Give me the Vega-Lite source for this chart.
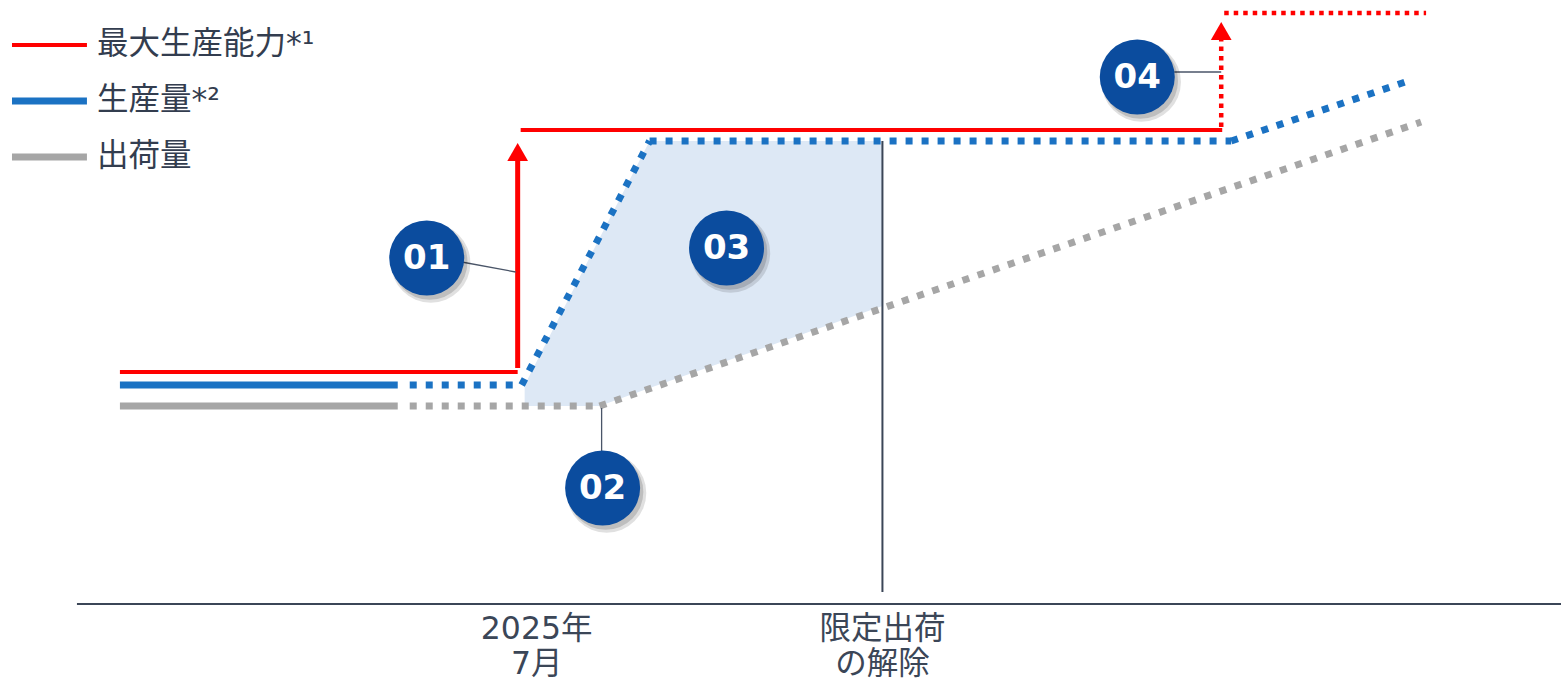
{
  "$schema": "https://vega.github.io/schema/vega-lite/v6.json",
  "width": 1562,
  "height": 681,
  "autosize": {"type": "fit", "contains": "padding"},
  "padding": 0,
  "background": "white",
  "config": {"view": {"stroke": null}},
  "datasets": {
    "area": [
      {"x": 525, "y": 385, "y2": 406},
      {"x": 600, "y": 238, "y2": 406},
      {"x": 650, "y": 141, "y2": 388},
      {"x": 883, "y": 141, "y2": 306}
    ],
    "redSolid": [
      {"x": 120, "y": 372, "x2": 518, "y2": 372},
      {"x": 521, "y": 130, "x2": 1223, "y2": 130}
    ],
    "redShaft": [{"x": 518, "y": 368, "x2": 518, "y2": 158}],
    "redDotted": [
      {"x": 1222, "y": 127, "x2": 1222, "y2": 40},
      {"x": 1225, "y": 13, "x2": 1427, "y2": 13}
    ],
    "arrowHeads": [{"x": 518, "y": 152}, {"x": 1222, "y": 31}],
    "blueSolid": [{"x": 120, "y": 385, "x2": 398, "y2": 385}],
    "blueDotted": [
      {"x": 410, "y": 385, "x2": 522, "y2": 385},
      {"x": 522, "y": 385, "x2": 650, "y2": 141},
      {"x": 650, "y": 141, "x2": 1232, "y2": 141},
      {"x": 1232, "y": 141, "x2": 1412, "y2": 80}
    ],
    "graySolid": [{"x": 120, "y": 406, "x2": 398, "y2": 406}],
    "grayDotted": [
      {"x": 410, "y": 406, "x2": 600, "y2": 406},
      {"x": 600, "y": 406, "x2": 1422, "y2": 122}
    ],
    "darkRules": [
      {"x": 883, "y": 141, "x2": 883, "y2": 592},
      {"x": 77, "y": 604, "x2": 1562, "y2": 604}
    ],
    "connectors": [
      {"x": 462, "y": 262, "x2": 516, "y2": 272},
      {"x": 602, "y": 408, "x2": 602, "y2": 452},
      {"x": 1175, "y": 72, "x2": 1222, "y2": 72}
    ],
    "badges": [
      {"x": 427, "y": 258, "label": "01"},
      {"x": 603, "y": 488, "label": "02"},
      {"x": 727, "y": 248, "label": "03"},
      {"x": 1138, "y": 77, "label": "04"}
    ],
    "axisLabels": [
      {"x": 537, "y": 630, "label": "2025年"},
      {"x": 537, "y": 665, "label": "7月"},
      {"x": 883, "y": 630, "label": "限定出荷"},
      {"x": 883, "y": 665, "label": "の解除"}
    ],
    "legendRed": [{"x": 12, "y": 45, "x2": 87, "y2": 45}],
    "legendBlue": [{"x": 12, "y": 101, "x2": 87, "y2": 101}],
    "legendGray": [{"x": 12, "y": 157, "x2": 87, "y2": 157}],
    "legendText": [
      {"x": 97, "y": 45, "label": "最大生産能力*¹"},
      {"x": 97, "y": 101, "label": "生産量*²"},
      {"x": 97, "y": 157, "label": "出荷量"}
    ]
  },
  "layer": [
    {
      "data": {"name": "area"},
      "mark": {"type": "area", "color": "#dde8f5", "opacity": 1},
      "encoding": {
        "x": {"field": "x", "type": "quantitative", "scale": {"domain": [0, 1562], "nice": false, "zero": false}, "axis": null},
        "y": {"field": "y", "type": "quantitative", "scale": {"domain": [0, 681], "nice": false, "zero": false, "reverse": true}, "axis": null},
        "y2": {"field": "y2"}
      }
    },
    {
      "data": {"name": "redSolid"},
      "mark": {"type": "rule", "color": "#ff0000", "strokeWidth": 4},
      "encoding": {
        "x": {"field": "x", "type": "quantitative"},
        "y": {"field": "y", "type": "quantitative"},
        "x2": {"field": "x2"},
        "y2": {"field": "y2"}
      }
    },
    {
      "data": {"name": "redShaft"},
      "mark": {"type": "rule", "color": "#ff0000", "strokeWidth": 5},
      "encoding": {
        "x": {"field": "x", "type": "quantitative"},
        "y": {"field": "y", "type": "quantitative"},
        "x2": {"field": "x2"},
        "y2": {"field": "y2"}
      }
    },
    {
      "data": {"name": "redDotted"},
      "mark": {"type": "rule", "color": "#ff0000", "strokeWidth": 4.5, "strokeDash": [4.5, 5]},
      "encoding": {
        "x": {"field": "x", "type": "quantitative"},
        "y": {"field": "y", "type": "quantitative"},
        "x2": {"field": "x2"},
        "y2": {"field": "y2"}
      }
    },
    {
      "data": {"name": "arrowHeads"},
      "mark": {"type": "point", "shape": "triangle-up", "filled": true, "color": "#ff0000", "size": 430, "opacity": 1},
      "encoding": {
        "x": {"field": "x", "type": "quantitative"},
        "y": {"field": "y", "type": "quantitative"}
      }
    },
    {
      "data": {"name": "blueSolid"},
      "mark": {"type": "rule", "color": "#1b72c3", "strokeWidth": 7},
      "encoding": {
        "x": {"field": "x", "type": "quantitative"},
        "y": {"field": "y", "type": "quantitative"},
        "x2": {"field": "x2"},
        "y2": {"field": "y2"}
      }
    },
    {
      "data": {"name": "blueDotted"},
      "mark": {"type": "rule", "color": "#1b72c3", "strokeWidth": 7, "strokeDash": [7, 9]},
      "encoding": {
        "x": {"field": "x", "type": "quantitative"},
        "y": {"field": "y", "type": "quantitative"},
        "x2": {"field": "x2"},
        "y2": {"field": "y2"}
      }
    },
    {
      "data": {"name": "graySolid"},
      "mark": {"type": "rule", "color": "#a6a6a6", "strokeWidth": 7},
      "encoding": {
        "x": {"field": "x", "type": "quantitative"},
        "y": {"field": "y", "type": "quantitative"},
        "x2": {"field": "x2"},
        "y2": {"field": "y2"}
      }
    },
    {
      "data": {"name": "grayDotted"},
      "mark": {"type": "rule", "color": "#a6a6a6", "strokeWidth": 7, "strokeDash": [7, 9]},
      "encoding": {
        "x": {"field": "x", "type": "quantitative"},
        "y": {"field": "y", "type": "quantitative"},
        "x2": {"field": "x2"},
        "y2": {"field": "y2"}
      }
    },
    {
      "data": {"name": "darkRules"},
      "mark": {"type": "rule", "color": "#3b4657", "strokeWidth": 2},
      "encoding": {
        "x": {"field": "x", "type": "quantitative"},
        "y": {"field": "y", "type": "quantitative"},
        "x2": {"field": "x2"},
        "y2": {"field": "y2"}
      }
    },
    {
      "data": {"name": "connectors"},
      "mark": {"type": "rule", "color": "#4a5568", "strokeWidth": 1.3},
      "encoding": {
        "x": {"field": "x", "type": "quantitative"},
        "y": {"field": "y", "type": "quantitative"},
        "x2": {"field": "x2"},
        "y2": {"field": "y2"}
      }
    },
    {
      "data": {"name": "badges"},
      "mark": {"type": "point", "shape": "circle", "filled": true, "color": "#000000", "opacity": 0.12, "size": 6300, "xOffset": 4, "yOffset": 5},
      "encoding": {
        "x": {"field": "x", "type": "quantitative"},
        "y": {"field": "y", "type": "quantitative"}
      }
    },
    {
      "data": {"name": "badges"},
      "mark": {"type": "point", "shape": "circle", "filled": true, "color": "#000000", "opacity": 0.15, "size": 5700, "xOffset": 3, "yOffset": 4},
      "encoding": {
        "x": {"field": "x", "type": "quantitative"},
        "y": {"field": "y", "type": "quantitative"}
      }
    },
    {
      "data": {"name": "badges"},
      "mark": {"type": "point", "shape": "circle", "filled": true, "color": "#0b4c9e", "opacity": 1, "size": 5625},
      "encoding": {
        "x": {"field": "x", "type": "quantitative"},
        "y": {"field": "y", "type": "quantitative"}
      }
    },
    {
      "data": {"name": "badges"},
      "mark": {"type": "text", "color": "#ffffff", "font": "DejaVu Sans", "fontWeight": "bold", "fontSize": 34, "align": "center", "baseline": "middle", "dy": 1},
      "encoding": {
        "x": {"field": "x", "type": "quantitative"},
        "y": {"field": "y", "type": "quantitative"},
        "text": {"field": "label"}
      }
    },
    {
      "data": {"name": "axisLabels"},
      "mark": {"type": "text", "color": "#3b4657", "font": "DejaVu Sans, Noto Sans CJK JP", "fontSize": 31.5, "align": "center", "baseline": "middle"},
      "encoding": {
        "x": {"field": "x", "type": "quantitative"},
        "y": {"field": "y", "type": "quantitative"},
        "text": {"field": "label"}
      }
    },
    {
      "data": {"name": "legendRed"},
      "mark": {"type": "rule", "color": "#ff0000", "strokeWidth": 4},
      "encoding": {
        "x": {"field": "x", "type": "quantitative"},
        "y": {"field": "y", "type": "quantitative"},
        "x2": {"field": "x2"},
        "y2": {"field": "y2"}
      }
    },
    {
      "data": {"name": "legendBlue"},
      "mark": {"type": "rule", "color": "#1b72c3", "strokeWidth": 7},
      "encoding": {
        "x": {"field": "x", "type": "quantitative"},
        "y": {"field": "y", "type": "quantitative"},
        "x2": {"field": "x2"},
        "y2": {"field": "y2"}
      }
    },
    {
      "data": {"name": "legendGray"},
      "mark": {"type": "rule", "color": "#a6a6a6", "strokeWidth": 7},
      "encoding": {
        "x": {"field": "x", "type": "quantitative"},
        "y": {"field": "y", "type": "quantitative"},
        "x2": {"field": "x2"},
        "y2": {"field": "y2"}
      }
    },
    {
      "data": {"name": "legendText"},
      "mark": {"type": "text", "color": "#333d4f", "font": "DejaVu Sans, Noto Sans CJK JP", "fontSize": 31.5, "align": "left", "baseline": "middle"},
      "encoding": {
        "x": {"field": "x", "type": "quantitative"},
        "y": {"field": "y", "type": "quantitative"},
        "text": {"field": "label"}
      }
    }
  ]
}
